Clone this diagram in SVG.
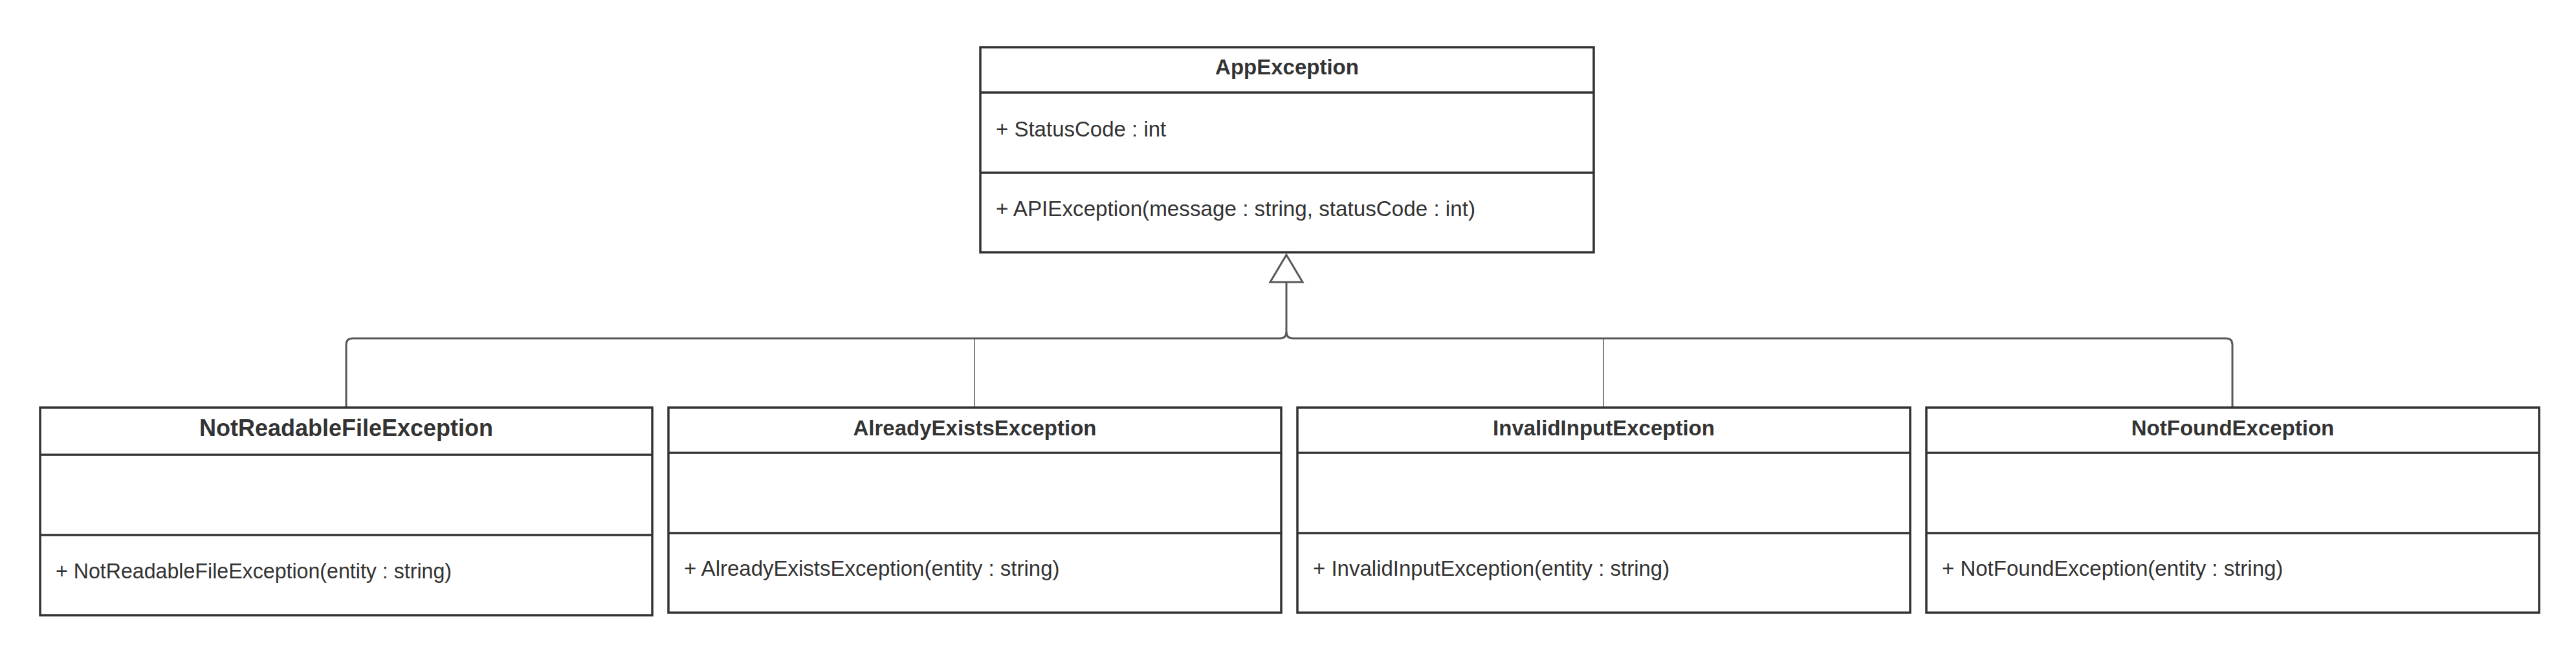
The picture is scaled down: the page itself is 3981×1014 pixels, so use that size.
<svg xmlns="http://www.w3.org/2000/svg" width="3981" height="1014" viewBox="0 0 3981 1014">
<style>
.box{fill:#ffffff;stroke:#333333;stroke-width:3.5}
.div{stroke:#333333;stroke-width:3.5}
.title{font-family:"Liberation Sans",Arial,sans-serif;font-weight:bold;font-size:33px;fill:#333333;text-anchor:middle}
.member{font-family:"Liberation Sans",Arial,sans-serif;font-size:33px;fill:#333333}
.conn{fill:none;stroke:#595959;stroke-width:3}
.stub{fill:none;stroke:#595959;stroke-width:1.5}
</style>
<rect width="3981" height="1014" fill="#ffffff"/>
<g id="connectors">
<path class="conn" d="M535,630 V533 Q535,523 545,523 H1978 Q1988,523 1988,513 V436"/>
<path class="conn" d="M3450,630 V533 Q3450,523 3440,523 H1998 Q1988,523 1988,513"/>
<path class="stub" d="M1506,523 V630"/>
<path class="stub" d="M2478,523 V630"/>
<polygon class="conn" style="fill:#ffffff" points="1988,394 2013,436 1963,436"/>
</g>
<g id="AppException">
<rect class="box" x="1515" y="73" width="948" height="317"/>
<line class="div" x1="1515" y1="143" x2="2463" y2="143"/>
<line class="div" x1="1515" y1="267" x2="2463" y2="267"/>
<text class="title" x="1989" y="115">AppException</text>
<text class="member" x="1539" y="211">+ StatusCode : int</text>
<text class="member" x="1539" y="334" textLength="741" lengthAdjust="spacingAndGlyphs">+ APIException(message : string, statusCode : int)</text>
</g>
<g id="NotReadableFileException">
<rect class="box" x="62" y="630" width="946" height="321"/>
<line class="div" x1="62" y1="703" x2="1008" y2="703"/>
<line class="div" x1="62" y1="827" x2="1008" y2="827"/>
<text class="title" x="535" y="674" style="font-size:36px">NotReadableFileException</text>
<text class="member" x="86" y="894" textLength="612" lengthAdjust="spacingAndGlyphs">+ NotReadableFileException(entity : string)</text>
</g>
<g id="AlreadyExistsException">
<rect class="box" x="1033" y="630" width="947" height="317"/>
<line class="div" x1="1033" y1="700" x2="1980" y2="700"/>
<line class="div" x1="1033" y1="824" x2="1980" y2="824"/>
<text class="title" x="1506.5" y="673">AlreadyExistsException</text>
<text class="member" x="1057" y="890">+ AlreadyExistsException(entity : string)</text>
</g>
<g id="InvalidInputException">
<rect class="box" x="2005" y="630" width="947" height="317"/>
<line class="div" x1="2005" y1="700" x2="2952" y2="700"/>
<line class="div" x1="2005" y1="824" x2="2952" y2="824"/>
<text class="title" x="2478.5" y="673">InvalidInputException</text>
<text class="member" x="2029" y="890">+ InvalidInputException(entity : string)</text>
</g>
<g id="NotFoundException">
<rect class="box" x="2977" y="630" width="947" height="317"/>
<line class="div" x1="2977" y1="700" x2="3924" y2="700"/>
<line class="div" x1="2977" y1="824" x2="3924" y2="824"/>
<text class="title" x="3450.5" y="673">NotFoundException</text>
<text class="member" x="3001" y="890">+ NotFoundException(entity : string)</text>
</g>
</svg>
